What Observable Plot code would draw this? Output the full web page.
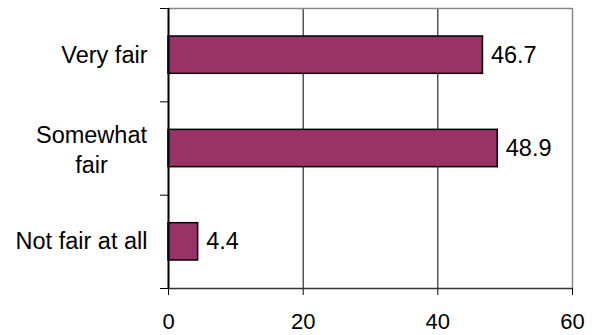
<!DOCTYPE html>
<html>
<head>
<meta charset="utf-8">
<script src="https://cdn.jsdelivr.net/npm/d3@7"></script>
<script src="https://cdn.jsdelivr.net/npm/@observablehq/plot@0.6"></script>
<style>
  html, body { margin: 0; padding: 0; background: #fff; }
  #chart svg { display: block; }
</style>
</head>
<body>
<div id="chart"></div>
<script>
const categories = ["Very fair", "Somewhat\nfair", "Not fair at all"];
const values = [46.7, 48.9, 4.4];
const xTicks = [0, 20, 40, 60];
const gridValues = [20, 40];

const data = categories.map((c, i) => ({category: c, value: values[i], idx: i}));
const singleLine = data.filter(d => !d.category.includes("\n"));
const multiLine = data.filter(d => d.category.includes("\n"));

const chart = Plot.plot({
  width: 598,
  height: 335,
  marginLeft: 168,
  marginRight: 26,
  marginTop: 8,
  marginBottom: 47,
  style: {fontFamily: "'Liberation Sans', Arial, sans-serif", fontSize: "22px", color: "#000", background: "#fff"},
  x: {domain: [0, 60], ticks: xTicks, tickSize: 7, tickPadding: 18, label: null},
  y: {domain: [0, 3], reverse: true, ticks: [0, 1, 2, 3], tickSize: 8, tickFormat: () => "", label: null},
  marks: [
    Plot.ruleX(gridValues, {stroke: "#000", strokeWidth: 1}),
    Plot.ruleX([60], {stroke: "#888", strokeWidth: 1.5}),
    Plot.ruleY([0], {stroke: "#888", strokeWidth: 1.5}),
    Plot.rectX(data, {
      x1: 0, x2: "value",
      y1: d => d.idx + 0.3, y2: d => d.idx + 0.7,
      fill: "#993366", stroke: "#000", strokeWidth: 1.5
    }),
    Plot.ruleY([3], {stroke: "#333", strokeWidth: 1.5}),
    Plot.ruleX([0], {stroke: "#000", strokeWidth: 2}),
    Plot.text(data, {
      x: "value", y: d => d.idx + 0.5, text: d => d.value.toFixed(1),
      dx: 8, textAnchor: "start", fontSize: 23.5, fill: "#000"
    }),
    Plot.text(singleLine, {
      x: 0, y: d => d.idx + 0.5, text: "category",
      dx: -21, textAnchor: "end", fontSize: 23.5, fill: "#000"
    }),
    Plot.text(multiLine, {
      x: 0, y: d => d.idx + 0.5, text: "category",
      dx: -77, textAnchor: "middle", fontSize: 23.5, lineHeight: 1.28, fill: "#000"
    })
  ]
});
document.getElementById("chart").appendChild(chart);
</script>
</body>
</html>
